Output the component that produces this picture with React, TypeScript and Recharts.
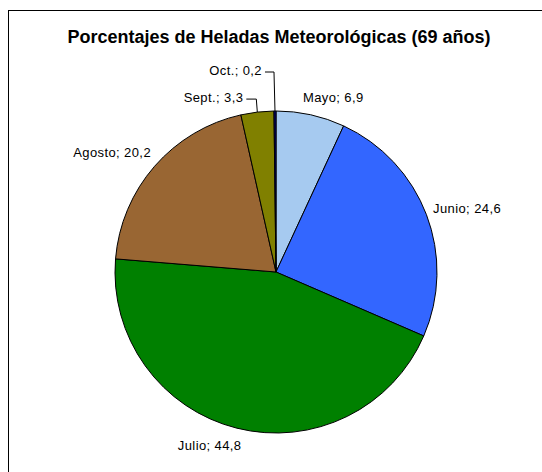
import React from 'react';
import { PieChart, Pie, Cell } from 'recharts';

// months with frost, share of 69 years (%)
const months = ['Mayo', 'Junio', 'Julio', 'Agosto', 'Sept.', 'Oct.'];
const percents = [6.9, 24.6, 44.8, 20.2, 3.3, 0.2];
const colors = ['#A6CAF0', '#3366FF', '#008000', '#996633', '#808000', '#000080'];

const data = months.map((name, i) => ({ name, value: percents[i] }));

const RAD = Math.PI / 180;

// label nudges relative to the point just outside the slice
const nudge: Record<string, { dx: number; dy: number }> = {
    Mayo: { dx: -9, dy: -11 },
    Junio: { dx: 1, dy: -4 },
    Julio: { dx: 6, dy: 11 },
    Agosto: { dx: 1, dy: -10 },
};

// labels with a leader line: rise of the elbow above the slice edge
const leader: Record<string, { rise: number; gap: number }> = {
    'Sept.': { rise: 13, gap: 13 },
    'Oct.': { rise: 39, gap: 12 },
};

const fmt = (v: number) => v.toFixed(1).replace('.', ',');

const renderLabel = (props: any) => {
    const { cx, cy, midAngle, outerRadius, name, value } = props;
    const cos = Math.cos(-midAngle * RAD);
    const sin = Math.sin(-midAngle * RAD);
    const text = `${name}; ${fmt(value)}`;
    const style = { fontFamily: '"Liberation Sans", Arial, sans-serif', fontSize: 13, letterSpacing: 0.4 };

    if (leader[name]) {
        const { rise, gap } = leader[name];
        const px = cx + outerRadius * cos;
        const py = cy + outerRadius * sin;
        const ey = py - rise;
        return (
            <g>
                <polyline
                    points={`${px},${py} ${px - 1},${ey} ${px - 1 - gap + 3},${ey}`}
                    fill="none"
                    stroke="#000"
                    strokeWidth={1}
                />
                <text x={px - gap - 1} y={ey - 1.5} textAnchor="end" dominantBaseline="central" fill="#000" style={style}>
                    {text}
                </text>
            </g>
        );
    }

    const r = outerRadius + 6;
    const n = nudge[name] || { dx: 0, dy: 0 };
    const x = cx + r * cos + n.dx;
    const y = cy + r * sin + n.dy;
    return (
        <text x={x} y={y} textAnchor={cos >= 0 ? 'start' : 'end'} dominantBaseline="central" fill="#000" style={style}>
            {text}
        </text>
    );
};

const App = () => {
    return (
        <div style={{ position: 'absolute', left: 0, top: 0, width: 542, height: 472, overflow: 'hidden', background: '#fff' }}>
            <div
                style={{
                    position: 'absolute',
                    left: 8,
                    top: 10,
                    width: 600,
                    height: 600,
                    borderLeft: '1.5px solid #000',
                    borderTop: '1.5px solid #000',
                }}
            />
            <div
                style={{
                    position: 'absolute',
                    left: 0,
                    top: 27,
                    width: 558,
                    textAlign: 'center',
                    fontFamily: '"Liberation Sans", Arial, sans-serif',
                    fontWeight: 'bold',
                    fontSize: 18,
                    color: '#000',
                }}
            >
                Porcentajes de Heladas Meteorológicas (69 años)
            </div>
            <div style={{ position: 'absolute', left: 0, top: 0 }}>
                <PieChart width={542} height={472} margin={{ top: 0, right: 0, bottom: 0, left: 0 }}>
                    <Pie
                        data={data}
                        dataKey="value"
                        nameKey="name"
                        cx={276}
                        cy={272}
                        outerRadius={161}
                        startAngle={90}
                        endAngle={-270}
                        stroke="#000"
                        strokeWidth={1}
                        label={renderLabel}
                        labelLine={false}
                        isAnimationActive={false}
                    >
                        {data.map((d, i) => (
                            <Cell key={d.name} fill={colors[i]} />
                        ))}
                    </Pie>
                </PieChart>
            </div>
        </div>
    );
};

export default App;
